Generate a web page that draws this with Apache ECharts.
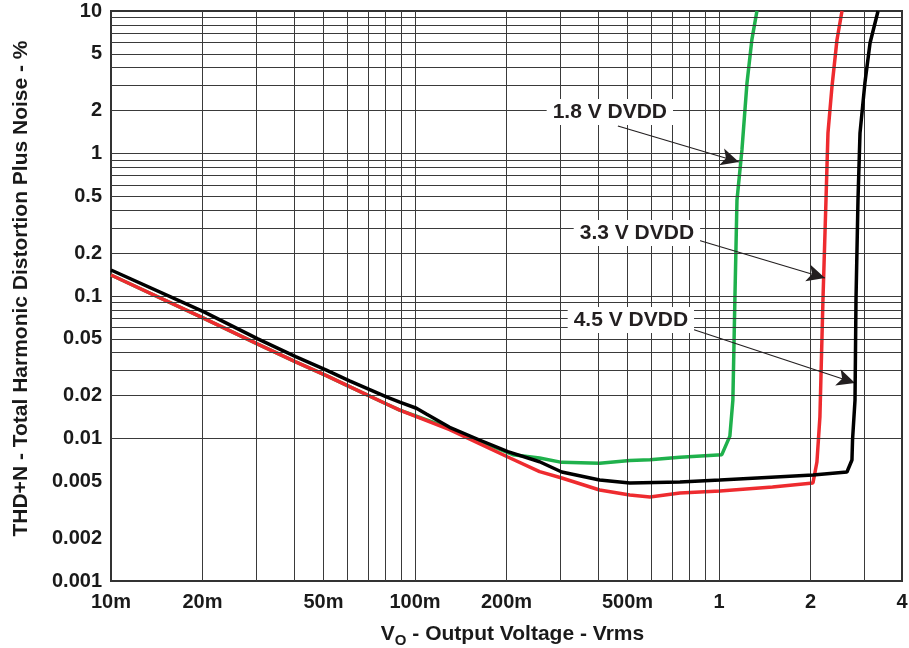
<!DOCTYPE html>
<html>
<head>
<meta charset="utf-8">
<script src="https://cdn.jsdelivr.net/npm/echarts@6/dist/echarts.min.js"></script>
<style>
html,body{margin:0;padding:0;background:#fff;}
#chart{width:909px;height:648px;}
</style>
</head>
<body>
<div id="chart"></div>
<script>
// ---- tick values and labels ----
const xTickValues = [0.01, 0.02, 0.05, 0.1, 0.2, 0.5, 1, 2, 4];
const xTickLabels = ['10m', '20m', '50m', '100m', '200m', '500m', '1', '2', '4'];
const yTickValues = [0.001, 0.002, 0.005, 0.01, 0.02, 0.05, 0.1, 0.2, 0.5, 1, 2, 5, 10];
const yTickLabels = ['0.001', '0.002', '0.005', '0.01', '0.02', '0.05', '0.1', '0.2', '0.5', '1', '2', '5', '10'];

// ---- grid line values (log grid) ----
const xGridValues = [0.02,0.03,0.04,0.05,0.06,0.07,0.08,0.09,0.1,0.2,0.3,0.4,0.5,0.6,0.7,0.8,0.9,1,2,3];
const yGridValues = [0.002,0.003,0.004,0.005,0.006,0.007,0.008,0.009,0.01,0.02,0.03,0.04,0.05,0.06,0.07,0.08,0.09,0.1,0.2,0.3,0.4,0.5,0.6,0.7,0.8,0.9,1,2,3,4,5,6,7,8,9];

// ---- series: [Vo (Vrms), THD+N (%)] ----
const dvdd18 = [[0.01,0.1404],[0.0203,0.0694],[0.0304,0.0459],[0.0405,0.0345],[0.0509,0.0277],[0.0609,0.0231],[0.0809,0.0174],[0.0891,0.0158],[0.130,0.0118],[0.163,0.0096],[0.21,0.0077],[0.257,0.0073],[0.304,0.0068],[0.405,0.0067],[0.509,0.0070],[0.593,0.0071],[0.744,0.0074],[1.022,0.0077],[1.086,0.0104],[1.111,0.0186],[1.128,0.094],[1.146,0.47],[1.19,1.06],[1.236,3.1],[1.283,6.3],[1.333,10]];
const dvdd33 = [[0.01,0.1404],[0.0203,0.0694],[0.0304,0.0459],[0.0405,0.0345],[0.0509,0.0277],[0.0609,0.0231],[0.0809,0.0174],[0.0891,0.0158],[0.130,0.01153],[0.163,0.0092],[0.202,0.00742],[0.257,0.00585],[0.304,0.00528],[0.405,0.00435],[0.509,0.00401],[0.593,0.00389],[0.744,0.00414],[1.007,0.00428],[1.5,0.00457],[2.038,0.00487],[2.10,0.00684],[2.148,0.01416],[2.198,0.0938],[2.249,0.47],[2.283,1.39],[2.353,2.93],[2.444,6.26],[2.539,10]];
const dvdd45 = [[0.01,0.1522],[0.0203,0.0770],[0.0304,0.0500],[0.0405,0.0375],[0.0509,0.0303],[0.0609,0.0254],[0.0809,0.0195],[0.0891,0.0180],[0.1011,0.0163],[0.109,0.01486],[0.130,0.01199],[0.163,0.00976],[0.202,0.00808],[0.257,0.00687],[0.304,0.00582],[0.405,0.00511],[0.509,0.00487],[0.744,0.00495],[1.007,0.00511],[2.038,0.00555],[2.636,0.00582],[2.738,0.00707],[2.75,0.00976],[2.802,0.0186],[2.823,0.0938],[2.866,0.472],[2.91,1.39],[3.02,3.12],[3.14,5.96],[3.336,10]];

// ---- annotations ----
const annoNames = ['1.8 V DVDD', '3.3 V DVDD', '4.5 V DVDD'];
const annoLabelAt = [[0.4375,1.955],[0.537,0.2767],[0.513,0.0679]];
const annoArrowFrom = [[0.465,1.56],[0.852,0.247],[0.814,0.0587]];
const annoArrowTo = [[1.163,0.872],[2.232,0.1338],[2.802,0.0245]];

const FONT = '"Liberation Sans", Arial, Helvetica, sans-serif';
const INK = '#1a1a1a';

function pickLabel(values, labels, v) {
  let best = 0, bd = Infinity;
  for (let i = 0; i < values.length; i++) {
    const d = Math.abs(Math.log(values[i]) - Math.log(v));
    if (d < bd) { bd = d; best = i; }
  }
  return bd < 0.01 ? labels[best] : '';
}

const chart = echarts.init(document.getElementById('chart'), null, {renderer: 'canvas'});

const gridLineData = xGridValues.map(v => ({xAxis: v})).concat(yGridValues.map(v => ({yAxis: v})));

const option = {
  animation: false,
  backgroundColor: '#ffffff',
  grid: {left: 111, right: 7, top: 11, bottom: 67, containLabel: false, outerBoundsMode: 'none',
         show: true, borderColor: '#333', borderWidth: 2, backgroundColor: 'transparent'},
  xAxis: {
    type: 'log', logBase: 10, min: 0.01, max: 4,
    axisLine: {show: true, lineStyle: {color: '#333', width: 2}},
    axisTick: {show: false},
    splitLine: {show: false},
    minorSplitLine: {show: false},
    axisLabel: {
      customValues: xTickValues,
      margin: 11,
      fontFamily: FONT, fontWeight: 'bold', fontSize: 20, color: INK,
      formatter: v => pickLabel(xTickValues, xTickLabels, v)
    },
    name: '{b|V}{s|O}{b| - Output Voltage - Vrms}',
    nameLocation: 'middle',
    nameGap: 39,
    nameTextStyle: {
      fontFamily: FONT, fontWeight: 'bold', fontSize: 21, color: INK,
      padding: [0, 0, 0, 12],
      rich: {
        b: {fontFamily: FONT, fontWeight: 'bold', fontSize: 21, color: INK},
        s: {fontFamily: FONT, fontWeight: 'bold', fontSize: 15, color: INK, padding: [13, 0, 0, 0]}
      }
    }
  },
  yAxis: {
    type: 'log', logBase: 10, min: 0.001, max: 10,
    axisLine: {show: true, lineStyle: {color: '#333', width: 2}},
    axisTick: {show: false},
    splitLine: {show: false},
    minorSplitLine: {show: false},
    axisLabel: {
      customValues: yTickValues,
      margin: 9,
      fontFamily: FONT, fontWeight: 'bold', fontSize: 20, color: INK,
      formatter: v => pickLabel(yTickValues, yTickLabels, v)
    },
    name: 'THD+N - Total Harmonic Distortion Plus Noise - %',
    nameLocation: 'middle',
    nameGap: 79,
    nameTextStyle: {fontFamily: FONT, fontWeight: 'bold', fontSize: 21, color: INK, padding: [0, 0, 0, 15]}
  },
  series: [
    {
      name: 'grid', type: 'line', data: [], z: 1, silent: true,
      markLine: {
        silent: true, symbol: 'none', animation: false,
        label: {show: false},
        lineStyle: {color: '#3a3a3a', width: 1, type: 'solid'},
        data: gridLineData
      }
    },
    {
      name: '1.8 V DVDD', type: 'line', data: dvdd18, showSymbol: false, z: 3,
      lineStyle: {color: '#1fb14c', width: 3.5}, itemStyle: {color: '#1fb14c'}
    },
    {
      name: '3.3 V DVDD', type: 'line', data: dvdd33, showSymbol: false, z: 4,
      lineStyle: {color: '#ee2b2f', width: 3.5}, itemStyle: {color: '#ee2b2f'}
    },
    {
      name: '4.5 V DVDD', type: 'line', data: dvdd45, showSymbol: false, z: 5,
      lineStyle: {color: '#000000', width: 3.5}, itemStyle: {color: '#000000'}
    },
    {
      name: 'annotations', type: 'line', data: [], z: 6, silent: true,
      markLine: {
        silent: true, animation: false,
        symbol: ['none', 'arrow'], symbolSize: [13, 18],
        label: {show: false},
        lineStyle: {color: '#231f20', width: 1.2, type: 'solid'},
        itemStyle: {color: '#231f20'},
        data: annoArrowFrom.map((p, i) => [{coord: p}, {coord: annoArrowTo[i]}])
      },
      markPoint: {
        silent: true, animation: false,
        symbol: 'rect', symbolSize: 1,
        itemStyle: {color: 'rgba(0,0,0,0)'},
        label: {
          show: true, position: 'inside',
          formatter: p => p.name,
          backgroundColor: '#ffffff', padding: [3, 6, 2, 6],
          fontFamily: FONT, fontWeight: 'bold', fontSize: 21, color: '#231f20'
        },
        data: annoNames.map((n, i) => ({name: n, coord: annoLabelAt[i]}))
      }
    }
  ]
};
chart.setOption(option);
</script>
</body>
</html>
